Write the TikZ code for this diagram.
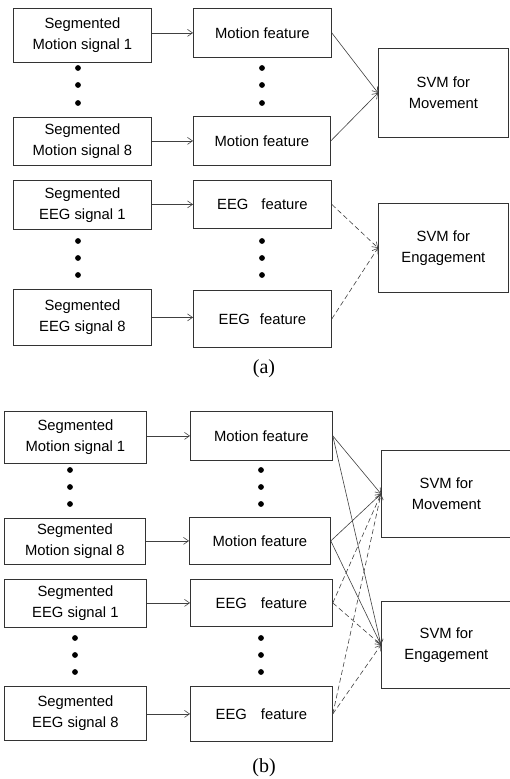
\documentclass[tikz,border=0pt]{standalone}
\usepackage{fontspec}
\setmainfont{Liberation Sans}
\newfontfamily\capfont{Liberation Serif}
\usetikzlibrary{arrows.meta}
\begin{document}
\begin{tikzpicture}[x=1pt,y=-1pt,
  box/.style={draw=black!80,line width=0.8pt,anchor=north west,inner sep=0pt,align=center,
    font=\fontsize{14.8}{21}\selectfont},
  conn/.style={draw=black!75,line width=0.6pt,-{Straight Barb[length=5pt,width=7pt]}},
  dconn/.style={conn,dash pattern=on 5pt off 3pt},
  dotc/.style={fill=black,circle,inner sep=0pt,minimum size=5.8pt},
  captext/.style={font=\capfont\fontsize{20}{22}\selectfont}]
\useasboundingbox (0,0) rectangle (509,779);
% ---------- panel (a) ----------
\node[box,minimum width=138pt,minimum height=54pt] (aA1) at (13,8) {Segmented\\Motion signal 1};
\node[box,minimum width=138pt,minimum height=49pt] (aF1) at (193,8) {Motion feature};
\node[box,minimum width=138pt,minimum height=48pt] (aA8) at (13,117) {Segmented\\Motion signal 8};
\node[box,minimum width=137pt,minimum height=49pt] (aF8) at (193,116) {Motion feature};
\node[box,minimum width=138pt,minimum height=49pt] (aE1) at (13,180) {Segmented\\EEG signal 1};
\node[box,minimum width=138pt,minimum height=48pt] (aG1) at (193,180) {EEG\hspace{13pt}feature};
\node[box,minimum width=138pt,minimum height=56pt] (aE8) at (13,289) {Segmented\\EEG signal 8};
\node[box,minimum width=138pt,minimum height=57pt] (aG8) at (193,290) {EEG\hspace{10pt}feature};
\node[box,minimum width=130pt,minimum height=89pt] (aSM) at (378,48) {SVM for\\Movement};
\node[box,minimum width=130pt,minimum height=89pt] (aSE) at (378,203) {SVM for\\Engagement};
\foreach \yy [count=\i] in {68,85,103}{
  \node[dotc] (ad1\i) at (78,\yy) {};
  \node[dotc] (ad2\i) at (262,\yy) {};}
\foreach \yy [count=\i] in {241,258,275}{
  \node[dotc] (ad3\i) at (78,\yy) {};
  \node[dotc] (ad4\i) at (262,\yy) {};}
\draw[conn] (aA1.east |- aF1.west) -- (aF1.west);
\draw[conn] (aA8.east |- aF8.west) -- (aF8.west);
\draw[conn] (aE1.east |- aG1.west) -- (aG1.west);
\draw[conn] (aE8.east) -- (aG8.west |- aE8.east);
\draw[conn] (aF1.east) -- (aSM.west);
\draw[conn] (aF8.east) -- (aSM.west);
\draw[dconn] (aG1.east) -- (aSE.west);
\draw[dconn] (aG8.east) -- (aSE.west);
\node[captext] (capa) at (264,369) {(a)};
% ---------- panel (b) ----------
\node[box,minimum width=142pt,minimum height=52pt] (bA1) at (4,411) {Segmented\\Motion signal 1};
\node[box,minimum width=142pt,minimum height=49pt] (bF1) at (190,411) {Motion feature};
\node[box,minimum width=141pt,minimum height=46pt] (bA8) at (4,518) {Segmented\\Motion signal 8};
\node[box,minimum width=141pt,minimum height=47pt] (bF8) at (189,517) {Motion feature};
\node[box,minimum width=142pt,minimum height=48pt] (bE1) at (4,579) {Segmented\\EEG signal 1};
\node[box,minimum width=142pt,minimum height=47pt] (bG1) at (190,579) {EEG\hspace{14pt}feature};
\node[box,minimum width=142pt,minimum height=54pt] (bE8) at (4,686) {Segmented\\EEG signal 8};
\node[box,minimum width=142pt,minimum height=55pt] (bG8) at (190,686) {EEG\hspace{14pt}feature};
\node[box,minimum width=130pt,minimum height=87pt] (bSM) at (381,450) {SVM for\\Movement};
\node[box,minimum width=130pt,minimum height=87pt] (bSE) at (381,601) {SVM for\\Engagement};
\foreach \yy [count=\i] in {470,487,504}{
  \node[dotc] (bd1\i) at (70,\yy) {};
  \node[dotc] (bd2\i) at (261,\yy) {};}
\foreach \yy [count=\i] in {638,655,672}{
  \node[dotc] (bd3\i) at (75,\yy) {};
  \node[dotc] (bd4\i) at (261,\yy) {};}
\draw[conn] (bA1.east |- bF1.west) -- (bF1.west);
\draw[conn] (bA8.east |- bF8.west) -- (bF8.west);
\draw[conn] (bE1.east |- bG1.west) -- (bG1.west);
\draw[conn] (bE8.east |- bG8.west) -- (bG8.west);
\draw[conn] (bF1.east) -- (bSM.west);
\draw[conn] (bF1.east) -- (bSE.west);
\draw[conn] (bF8.east) -- (bSM.west);
\draw[conn] (bF8.east) -- (bSE.west);
\draw[dconn] (bG1.east) -- (bSM.west);
\draw[dconn] (bG1.east) -- (bSE.west);
\draw[dconn] (bG8.east) -- (bSM.west);
\draw[dconn] (bG8.east) -- (bSE.west);
\node[captext] (capb) at (264,768) {(b)};
\end{tikzpicture}
\end{document}
